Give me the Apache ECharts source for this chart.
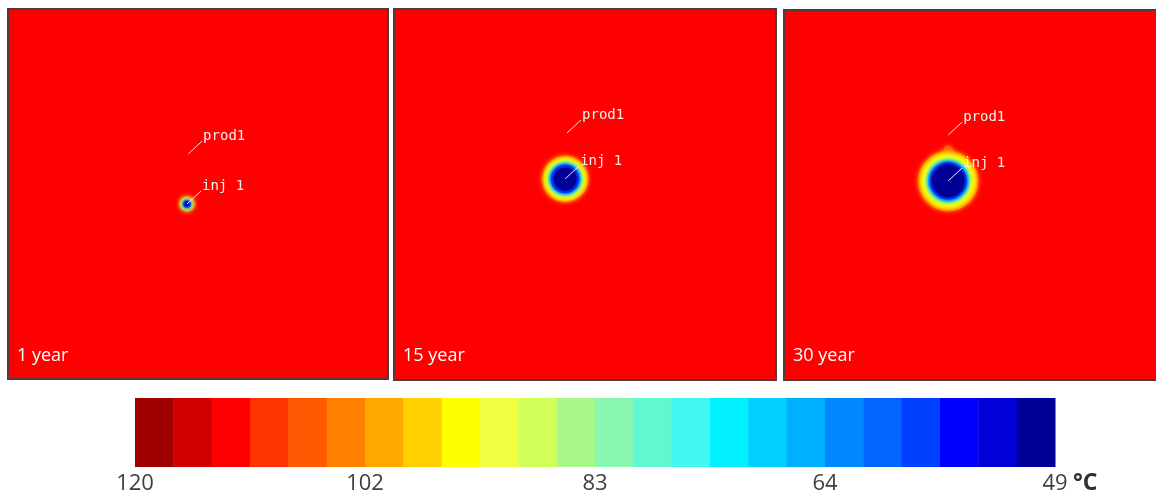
<!DOCTYPE html>
<html><head><meta charset="utf-8">
<script src="https://cdn.jsdelivr.net/npm/echarts@6/dist/echarts.min.js"></script>
<style>html,body{margin:0;padding:0;background:#fff;overflow:hidden}#c{width:1156px;height:496px}</style>
</head><body><div id="c"></div>
<script>
// ---- data ----
const panelTitles = ['1 year', '15 year', '30 year'];
const wellNames = ['prod1', 'inj 1'];
// well positions per panel [x, y] in model units (0..1000 each way)
const wells1 = [[474, 608], [471, 473]];
const wells2 = [[453, 666], [448, 542]];
const wells3 = [[432, 662], [432, 538]];
// cold plume rings around the injector: [radius, yOffset, colour class]
const plume1 = [[20, 0, 6], [16, 0, 8], [12.6, 0, 13], [10, 0, 20], [5.8, 0, 23]];
const plume2 = [[60, 0, 5], [56, 0, 7], [51, 0, 8], [45, 0, 10], [41, 0, 15], [37, 0, 20], [30, 0, 23]];
const plume3 = [[12, 84, 4], [22, 62, 5], [79, 0, 5], [30, 40, 7], [74, 0, 7], [67, 0, 8], [59, 0, 10], [54, 0, 15], [49, 0, 20], [43, 0, 23]];
// colour scale classes, 120 °C (left) -> 49 °C (right)
const colorbarColors = ['#A00000', '#D00000', '#FF0000', '#FF3300', '#FF5800', '#FF8000',
  '#FFA800', '#FFD000', '#FFFF00', '#F0FF40', '#D0FF58', '#A8F888',
  '#88F8B0', '#60F8D0', '#40F8F0', '#00F0FF', '#00D0FF', '#00B0FF',
  '#0088FF', '#0066FF', '#0040FF', '#0000FF', '#0000D8', '#000098'];
const tickLabels = ['120', '102', '83', '64', '49'];
const unitLabel = '°C';

// ---- chart ----
const chart = echarts.init(document.getElementById('c'), null, {renderer: 'canvas'});
const panelBoxes = [
  {left: 8, top: 9, width: 380, height: 370},
  {left: 394, top: 9, width: 382, height: 371},
  {left: 784, top: 10, width: 380, height: 370}
];
const wellSets = [wells1, wells2, wells3];
const plumeSets = [plume1, plume2, plume3];
const frameColor = '#553838';

const grids = [], xAxes = [], yAxes = [], series = [], graphics = [];
panelBoxes.forEach((b, i) => {
  const last = i === panelBoxes.length - 1;
  grids.push(Object.assign({show: true, outerBoundsMode: 'none', containLabel: false,
    backgroundColor: colorbarColors[2], borderColor: frameColor, borderWidth: last ? 0 : 2}, b));
  xAxes.push({type: 'value', gridIndex: i, min: 0, max: 1000, show: false});
  yAxes.push({type: 'value', gridIndex: i, min: 0, max: 1000, show: false});
  const inj = wellSets[i][1];
  series.push({
    type: 'custom', xAxisIndex: i, yAxisIndex: i, silent: true, clip: false,
    data: plumeSets[i].map(p => [inj[0], inj[1] + p[1], p[0], p[2]]),
    renderItem: (params, api) => {
      const c = api.coord([api.value(0), api.value(1)]);
      const r = api.size([api.value(2), 0])[0];
      const col = colorbarColors[api.value(3)];
      return {type: 'circle', shape: {cx: c[0], cy: c[1], r: r},
        style: {fill: col, shadowBlur: 5, shadowColor: col}};
    }
  });
  series.push({
    type: 'custom', xAxisIndex: i, yAxisIndex: i, silent: true, clip: false,
    data: wellSets[i].map((w, k) => [w[0], w[1], k]),
    renderItem: (params, api) => {
      const p = api.coord([api.value(0), api.value(1)]);
      return {type: 'group', children: [
        {type: 'line', shape: {x1: p[0], y1: p[1], x2: p[0] + 14, y2: p[1] - 13},
          style: {stroke: '#f6eeee', lineWidth: 1}},
        {type: 'text', x: p[0] + 15, y: p[1] - 18,
          style: {text: wellNames[api.value(2)], fill: '#f6eeee', fontSize: 14,
            fontFamily: 'DejaVu Sans Mono', align: 'left', verticalAlign: 'middle'}}
      ]};
    }
  });
  graphics.push({type: 'text', left: b.left + 9, top: 347, z: 10,
    style: {text: panelTitles[i], fill: '#ffffff', fontSize: 18, fontFamily: 'Open Sans'}});
  if (last) {
    // open frame of the right panel: it runs past the picture edge
    const x0 = b.left, y0 = b.top, y1 = b.top + b.height, x1 = b.left + b.width + 40;
    graphics.push({type: 'polyline', z: 10, silent: true,
      shape: {points: [[x1, y1], [x0, y1], [x0, y0], [x1, y0]]},
      style: {fill: null, stroke: frameColor, lineWidth: 2}});
  }
});

// colour bar
grids.push({left: 135, top: 398, width: 920, height: 69, show: false, outerBoundsMode: 'none'});
xAxes.push({type: 'value', gridIndex: 3, min: 0, max: colorbarColors.length, interval: 6,
  axisLine: {show: false}, axisTick: {show: false}, splitLine: {show: false},
  axisLabel: {margin: 6, fontSize: 22, color: '#404040', fontFamily: 'Open Sans',
    formatter: v => tickLabels[Math.round(v / 6)] || ''}});
yAxes.push({type: 'value', gridIndex: 3, min: 0, max: 1, show: false});
series.push({
  type: 'custom', xAxisIndex: 3, yAxisIndex: 3, silent: true,
  data: colorbarColors.map((c, i) => [i]),
  renderItem: (params, api) => {
    const i = api.value(0);
    const p0 = api.coord([i, 0]);
    const p1 = api.coord([i + 1, 1]);
    return {type: 'rect', shape: {x: p0[0], y: p1[1], width: p1[0] - p0[0] + 0.5, height: p0[1] - p1[1]},
      style: {fill: colorbarColors[i]}};
  }
});
graphics.push({type: 'text', left: 1073, top: 472,
  style: {text: unitLabel, fill: '#303030', fontSize: 23, fontWeight: 'bold', fontFamily: 'Open Sans'}});

chart.setOption({
  animation: false,
  backgroundColor: '#ffffff',
  grid: grids, xAxis: xAxes, yAxis: yAxes, series: series, graphic: graphics
});
</script></body></html>
